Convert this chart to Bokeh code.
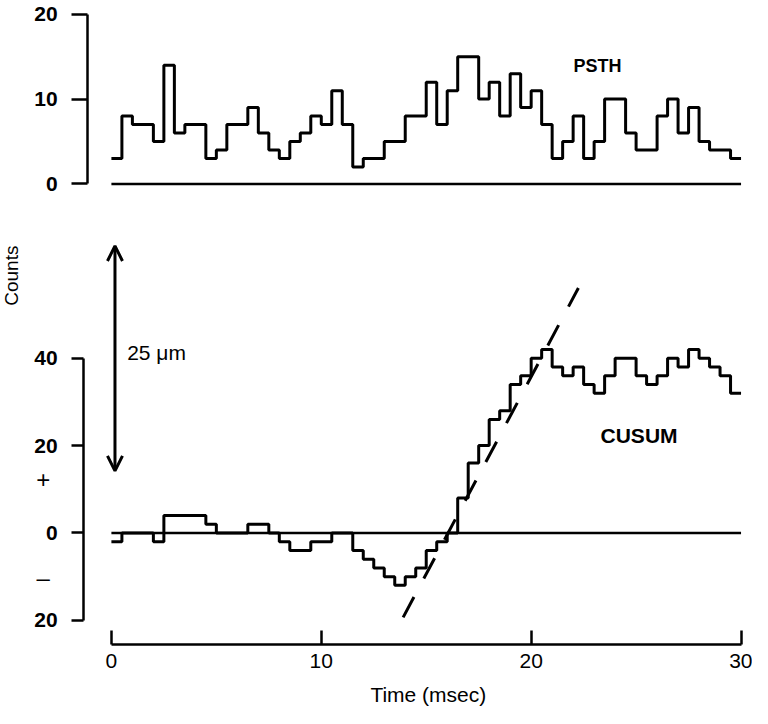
import math
from bokeh.plotting import figure
from bokeh.models import Arrow, OpenHead, Label, FixedTicker, LinearAxis, Range1d
from bokeh.embed import file_html
from bokeh.resources import INLINE

FONT = "Liberation Sans"

# ---- data ----
BIN_MS = 0.5
psth_counts = [3, 8, 7, 7, 5, 14, 6, 7, 7, 3,
               4, 7, 7, 9, 6, 4, 3, 5, 6, 8,
               7, 11, 7, 2, 3, 3, 5, 5, 8, 8,
               12, 7, 11, 15, 15, 10, 12, 8, 13, 9,
               11, 7, 3, 5, 8, 3, 5, 10, 10, 6,
               4, 4, 8, 10, 6, 9, 5, 4, 4, 3]
cusum_counts = [-2, 0, 0, 0, -2, 4, 4, 4, 4, 2,
                0, 0, 0, 2, 2, 0, -2, -4, -4, -2,
                -2, 0, 0, -4, -6, -8, -10, -12, -10, -8,
                -4, -2, 0, 8, 16, 20, 26, 28, 34, 36,
                40, 42, 38, 36, 38, 34, 32, 36, 40, 40,
                36, 34, 36, 40, 38, 42, 40, 38, 36, 32]
time_ticks = [0, 10, 20, 30]
psth_ticks = [0, 10, 20]
cusum_ticks = [-20, 0, 20, 40]
cusum_tick_text = {-20: "20", 0: "0", 20: "20", 40: "40"}
time_span = (0, 30)
psth_span = (0, 20)
cusum_span = (-20, 40)
fit_x = [13.9, 22.25]           # ms, extent of dashed fit line
fit_slope = 9.03                # counts per ms
fit_zero_ms = 16.04             # where the fit crosses zero
scale_bar = (0.17, 14.2, 65.7)  # x, y bottom, y top of the 25 um bar

edges = [i * BIN_MS for i in range(len(psth_counts) + 1)]
psth_y = psth_counts + [psth_counts[-1]]
cusum_y = cusum_counts + [cusum_counts[-1]]
fit_y = [fit_slope * (x - fit_zero_ms) for x in fit_x]

# ---- one figure, two vertical scales ----
p = figure(width=752, height=708,
           x_range=Range1d(-5.2845, 30.546), y_range=Range1d(-61.86, 21.63),
           extra_y_ranges={"cusum": Range1d(-40.19, 121.90)},
           x_axis_location=None, y_axis_location=None,
           toolbar_location=None, output_backend="svg", min_border=0)
p.outline_line_color = None
p.background_fill_color = "white"
p.border_fill_color = "white"
p.xgrid.visible = False
p.ygrid.visible = False
for g in p.grid:
    g.grid_line_color = None


def style_axis(ax, bold, size="21px"):
    ax.minor_tick_line_color = None
    ax.axis_line_width = 2.5
    ax.axis_line_color = "black"
    ax.major_tick_line_width = 2.5
    ax.major_tick_line_color = "black"
    ax.major_label_text_font = FONT
    ax.major_label_text_font_style = "bold" if bold else "normal"
    ax.major_label_text_font_size = size
    ax.major_label_text_color = "black"


ax_psth = LinearAxis(fixed_location=-1.132, bounds=psth_span,
                     ticker=FixedTicker(ticks=psth_ticks))
style_axis(ax_psth, True)
ax_psth.major_tick_out = 16
ax_psth.major_tick_in = 0
ax_psth.major_label_standoff = 14
p.add_layout(ax_psth, "left")

ax_cusum = LinearAxis(y_range_name="cusum", fixed_location=-1.321, bounds=cusum_span,
                      ticker=FixedTicker(ticks=cusum_ticks))
style_axis(ax_cusum, True)
ax_cusum.major_label_overrides = cusum_tick_text
ax_cusum.major_tick_out = 12
ax_cusum.major_tick_in = 0
ax_cusum.major_label_standoff = 14
p.add_layout(ax_cusum, "left")

ax_time = LinearAxis(y_range_name="cusum", fixed_location=-25.51, bounds=time_span,
                     ticker=FixedTicker(ticks=time_ticks))
style_axis(ax_time, False)
ax_time.major_tick_in = 14
ax_time.major_tick_out = 0
ax_time.major_label_standoff = 10
p.add_layout(ax_time, "below")

# PSTH
p.segment(x0=[time_span[0]], y0=[0], x1=[time_span[1]], y1=[0], line_color="black", line_width=2.5)
p.step(x=edges, y=psth_y, mode="after", line_color="black", line_width=3)

# CUSUM
p.segment(x0=[time_span[0]], y0=[0], x1=[time_span[1]], y1=[0], line_color="black", line_width=2.5,
          y_range_name="cusum")
p.step(x=edges, y=cusum_y, mode="after", line_color="black", line_width=3, y_range_name="cusum")
p.line(x=fit_x, y=fit_y, line_color="black", line_width=3, line_dash="23 21", y_range_name="cusum")

p.add_layout(Arrow(x_start=scale_bar[0], y_start=scale_bar[1], x_end=scale_bar[0], y_end=scale_bar[2],
                   y_range_name="cusum", line_width=3, line_color="black",
                   start=OpenHead(size=15, line_width=3, line_color="black"),
                   end=OpenHead(size=15, line_width=3, line_color="black")))


def add_text(x, y, text, size="21px", style="normal", align="center", baseline="middle",
             angle=0.0, rng="default"):
    p.add_layout(Label(x=x, y=y, text=text, y_range_name=rng, text_font=FONT,
                       text_font_size=size, text_font_style=style, text_color="black",
                       text_align=align, text_baseline=baseline, angle=angle))


add_text(23.16, 13.95, "PSTH", size="18px", style="bold")
add_text(25.14, 22.3, "CUSUM", style="bold", rng="cusum")
add_text(0.75, 41.3, "25 \u03bcm", align="left", rng="cusum")
add_text(-3.25, 12.2, "+", size="24px", rng="cusum")
add_text(-3.25, -10.2, "\u2013", size="24px", rng="cusum")
add_text(-4.75, 58.9, "Counts", size="19px", angle=math.pi / 2, rng="cusum")
add_text(15.1, -39.6, "Time (msec)", baseline="bottom", rng="cusum")

open("out.html", "w").write(file_html(p, INLINE))
